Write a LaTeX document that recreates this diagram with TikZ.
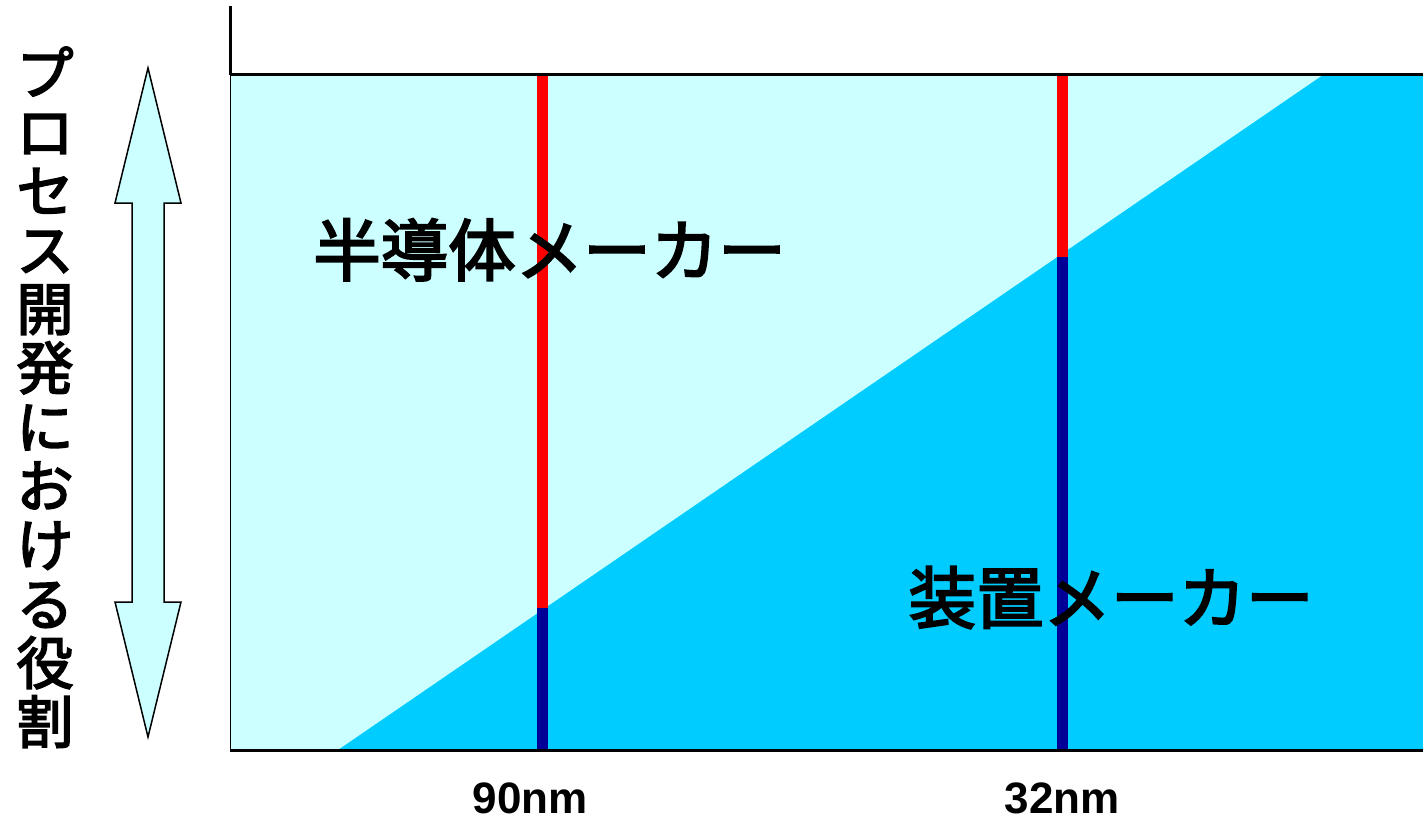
\documentclass[tikz,border=0pt]{standalone}
\usepackage{fontspec}
\setmainfont{Liberation Sans}
\newfontfamily\jp[FakeBold=3]{Noto Sans CJK JP}
\definecolor{lightcyan}{HTML}{CCFFFF}
\definecolor{deepcyan}{HTML}{00CCFF}
\definecolor{barred}{HTML}{FF0000}
\definecolor{barblue}{HTML}{000099}
\tikzset{
  jplabel/.style={inner sep=0pt, text height=59pt, text depth=8pt, font=\jp\fontsize{67.5}{67.5}\selectfont},
  vlabel/.style={inner sep=0pt, text height=50.5pt, text depth=7pt, font=\jp\fontsize{57}{57}\selectfont},
  nmlabel/.style={inner sep=0pt, font=\bfseries\fontsize{44}{44}\selectfont},
  bar/.style={line width=11pt},
  axisline/.style={line width=3pt, black},
}
\begin{document}
\begin{tikzpicture}[x=1pt, y=-1pt]
\useasboundingbox (0,0) rectangle (1423,821);
% background regions
\fill[lightcyan] (230,75) rectangle (1423,750);
\fill[deepcyan] (338,750) -- (1323,75) -- (1423,75) -- (1423,750) -- cycle;
\draw[line width=1pt] (230,75) -- (230,750);
% bars
\coordinate (a1) at (542.5,75);
\coordinate (a2) at (542.5,608);
\coordinate (a3) at (542.5,750);
\coordinate (b1) at (1062.5,75);
\coordinate (b2) at (1062.5,257);
\coordinate (b3) at (1062.5,750);
\draw[bar, barred] (a1) -- (a2);
\draw[bar, barblue] (a2) -- (a3);
\draw[bar, barred] (b1) -- (b2);
\draw[bar, barblue] (b2) -- (b3);
% axes
\coordinate (axtop) at (230,6);
\coordinate (axcorner) at (230,75);
\coordinate (topright) at (1423,75);
\coordinate (botleft) at (230,750);
\coordinate (botright) at (1423,750);
\draw[axisline] (axtop) -- (axcorner);
\draw[axisline] (axcorner) -- (topright);
\draw[axisline] (botleft) -- (botright);
% double arrow
\draw[fill=lightcyan, line width=1.5pt, line join=miter]
  (148,68) -- (181,203) -- (164,203) -- (164,602) -- (181,602) -- (148,737)
  -- (115,602) -- (132,602) -- (132,203) -- (115,203) -- cycle;
% labels
\node[jplabel] (semi) at (549.5,250) {半導体メーカー};
\node[jplabel] (equip) at (1111,597.5) {装置メーカー};
\node[nmlabel] (n90) at (530,798) {90nm};
\node[nmlabel] (n32) at (1062,798) {32nm};
\foreach \ch [count=\i from 0] in {プ,ロ,セ,ス,開,発,に,お,け,る,役,割}
  \node[vlabel] (v\i) at (45,72.5+59*\i) {\ch};
\end{tikzpicture}
\end{document}
